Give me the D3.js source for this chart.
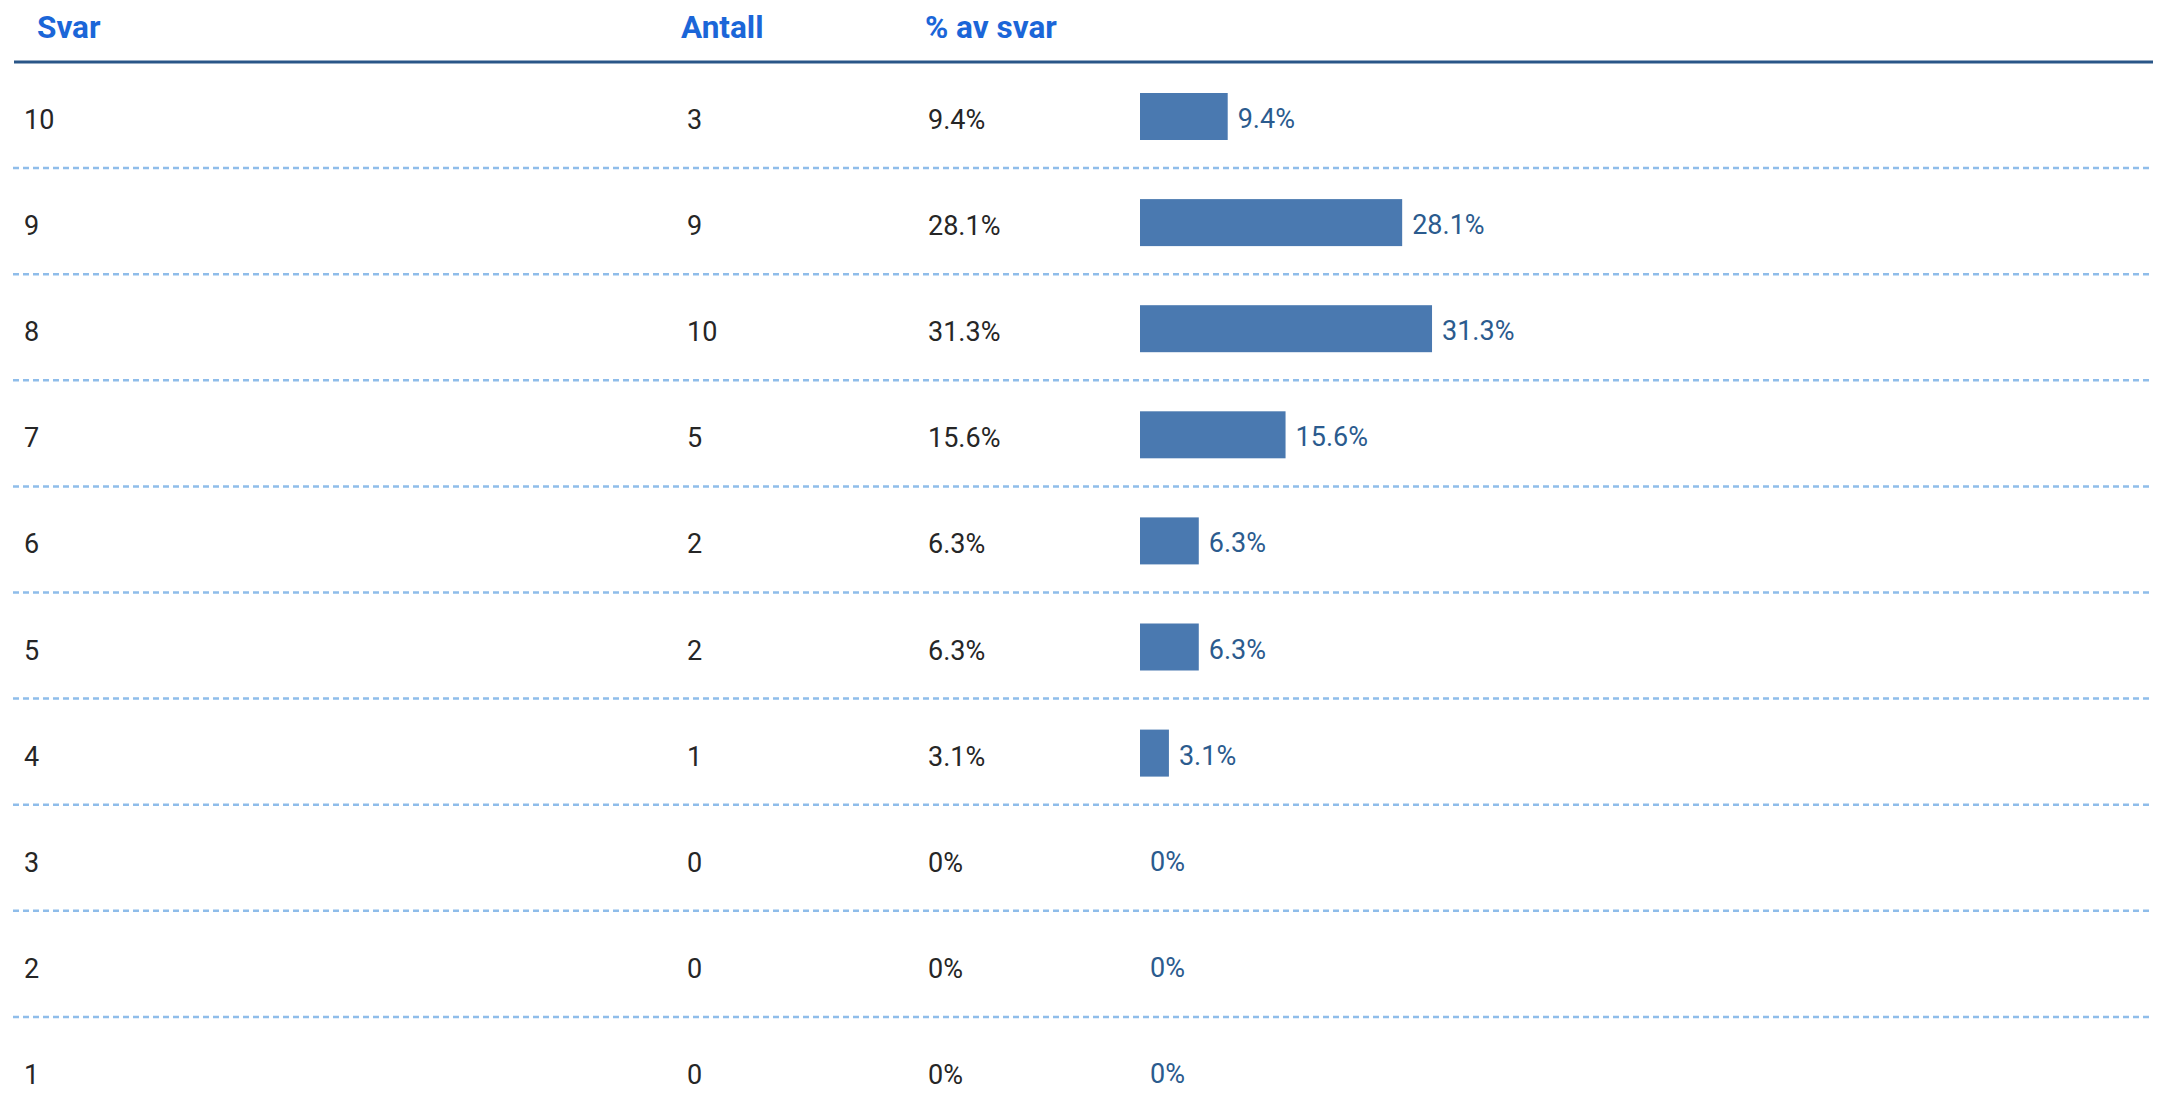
<!DOCTYPE html>
<html>
<head>
<meta charset="utf-8">
<title>Svarfordeling</title>
<script src="https://d3js.org/d3.v7.min.js"></script>
<style>
  body { margin: 0; background: #fff; }
  svg { display: block; font-family: Roboto, "Noto Sans", Arial, sans-serif; }
  .head { font-weight: 700; font-size: 31.5px; fill: #1b66d8; }
  .cell { font-size: 27px; fill: #262626; }
  .lbl { font-size: 27px; fill: #2b5b8e; }
</style>
</head>
<body>
<div id="chart"></div>
<script>
const headers = ["Svar", "Antall", "% av svar"];
const answers = ["10", "9", "8", "7", "6", "5", "4", "3", "2", "1"];
const counts = [3, 9, 10, 5, 2, 2, 1, 0, 0, 0];
const percents = [9.4, 28.1, 31.3, 15.6, 6.3, 6.3, 3.1, 0, 0, 0];
const percentLabels = ["9.4%", "28.1%", "31.3%", "15.6%", "6.3%", "6.3%", "3.1%", "0%", "0%", "0%"];

const width = 2163;
const height = 1119;

const rows = answers.map((a, i) => ({
  answer: a,
  count: counts[i],
  pct: percents[i],
  label: percentLabels[i]
}));

const svg = d3.select("#chart")
  .append("svg")
  .attr("width", width)
  .attr("height", height);

// column positions
const colX = [24, 687, 928];
const headX = [37, 681, 925];

// rows
const y = d3.scaleBand()
  .domain(answers)
  .range([62, 62 + answers.length * 106.1])
  .padding(0);

// bars
const x = d3.scaleLinear()
  .domain([0, 100])
  .range([1140, 1140 + 933]);

// header
svg.selectAll("text.head")
  .data(headers)
  .join("text")
  .attr("class", "head")
  .attr("x", (d, i) => headX[i])
  .attr("y", 38)
  .text(d => d);

svg.append("line")
  .attr("x1", 14)
  .attr("x2", 2153)
  .attr("y1", 62)
  .attr("y2", 62)
  .attr("stroke", "#2a5688")
  .attr("stroke-width", 3);

// dashed separators
svg.selectAll("line.sep")
  .data(rows.slice(0, -1))
  .join("line")
  .attr("class", "sep")
  .attr("x1", 13)
  .attr("x2", 2153)
  .attr("y1", d => y(d.answer) + y.bandwidth())
  .attr("y2", d => y(d.answer) + y.bandwidth())
  .attr("stroke", "#8fbdea")
  .attr("stroke-width", 2.5)
  .attr("stroke-dasharray", "6 4");

const row = svg.selectAll("g.row")
  .data(rows)
  .join("g")
  .attr("class", "row")
  .attr("transform", d => `translate(0, ${y(d.answer)})`);

row.append("text")
  .attr("class", "cell")
  .attr("x", colX[0])
  .attr("y", 67)
  .text(d => d.answer);

row.append("text")
  .attr("class", "cell")
  .attr("x", colX[1])
  .attr("y", 67)
  .text(d => d.count);

row.append("text")
  .attr("class", "cell")
  .attr("x", colX[2])
  .attr("y", 67)
  .text(d => d.label);

row.filter(d => d.pct > 0)
  .append("rect")
  .attr("x", x(0))
  .attr("y", 31)
  .attr("width", d => x(d.pct) - x(0))
  .attr("height", 47)
  .attr("fill", "#4a79b0");

row.append("text")
  .attr("class", "lbl")
  .attr("x", d => x(d.pct) + 10)
  .attr("y", 66)
  .text(d => d.label);
</script>
</body>
</html>
